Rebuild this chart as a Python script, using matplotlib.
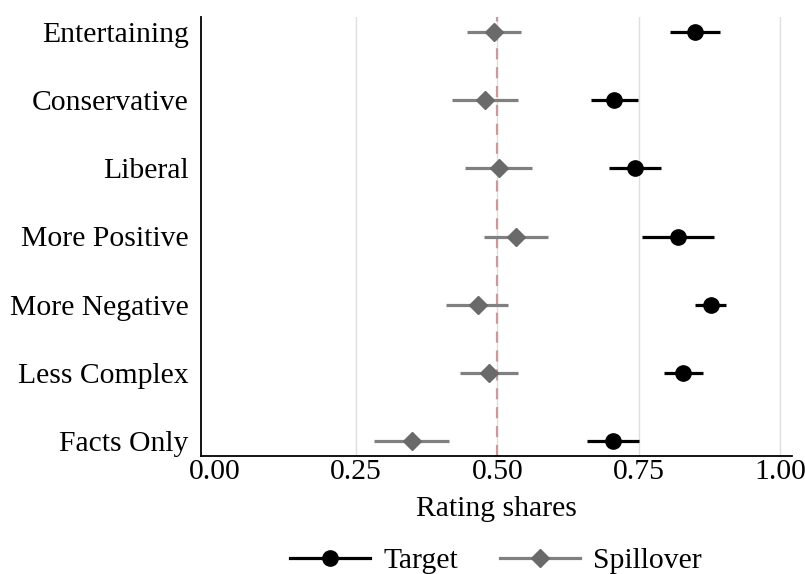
import matplotlib
matplotlib.use("Agg")
import matplotlib.pyplot as plt
from matplotlib.lines import Line2D

categories = ["Entertaining", "Conservative", "Liberal", "More Positive",
              "More Negative", "Less Complex", "Facts Only"]
target_est = [0.850, 0.707, 0.744, 0.819, 0.877, 0.828, 0.705]
target_lo = [0.806, 0.665, 0.697, 0.755, 0.850, 0.794, 0.658]
target_hi = [0.893, 0.749, 0.790, 0.883, 0.904, 0.864, 0.751]
spill_est = [0.494, 0.479, 0.503, 0.533, 0.465, 0.486, 0.349]
spill_lo = [0.447, 0.420, 0.443, 0.477, 0.409, 0.434, 0.282]
spill_hi = [0.541, 0.537, 0.562, 0.589, 0.519, 0.537, 0.414]
xticks = [0.0, 0.25, 0.5, 0.75, 1.0]
xticklabels = ["0.00", "0.25", "0.50", "0.75", "1.00"]

plt.rcParams['font.family'] = ['Liberation Serif', 'DejaVu Serif']
fs = 21.3

fig = plt.figure(figsize=(8.05, 5.74), dpi=100)
ax = fig.add_axes([201 / 805, 1 - 456 / 574, (792 - 201) / 805, (456 - 17) / 574])

n = len(categories)
ypos = [n - i for i in range(n)]

for x in xticks[1:]:
    ax.axvline(x, color="#dedede", lw=1.0, zorder=0)
ax.axvline(0.5, color="#c9999c", lw=1.6, ls=(0, (5, 3.5)), zorder=1)

tcol = "black"
scol_line = "#808080"
scol_mark = "#6a6a6a"

ax.hlines(ypos, spill_lo, spill_hi, color=scol_line, lw=2.3, zorder=2)
ax.plot(spill_est, ypos, ls="none", marker="D", ms=9.5, color=scol_mark, zorder=3)
ax.hlines(ypos, target_lo, target_hi, color=tcol, lw=2.3, zorder=2)
ax.plot(target_est, ypos, ls="none", marker="o", ms=11, color=tcol, zorder=3)

ax.set_xlim(-0.024, 1.021)
ax.set_ylim(0.78, n + 0.22)
ax.set_yticks(ypos)
ax.set_yticklabels(categories, fontsize=fs)
ax.set_xticks(xticks)
ax.set_xticklabels(xticklabels, fontsize=fs)
ax.tick_params(axis="y", length=0, pad=9)
ax.tick_params(axis="x", length=0, pad=2)
ax.set_xlabel("Rating shares", fontsize=fs, labelpad=8)

for s in ["top", "right"]:
    ax.spines[s].set_visible(False)
for s in ["left", "bottom"]:
    ax.spines[s].set_linewidth(1.3)
    ax.spines[s].set_color("black")

handles = [
    Line2D([], [], color=tcol, lw=2.3, marker="o", ms=11),
    Line2D([], [], color=scol_line, lw=2.3, marker="D", ms=9.5,
           markerfacecolor=scol_mark, markeredgecolor=scol_mark),
]
fig.legend(handles, ["Target", "Spillover"], loc="center",
           bbox_to_anchor=(496 / 805, 1 - 561 / 574),
           ncol=2, frameon=False, fontsize=fs, handlelength=2.7, columnspacing=1.4,
           handletextpad=0.45)

fig.savefig("out.png", dpi=100)
